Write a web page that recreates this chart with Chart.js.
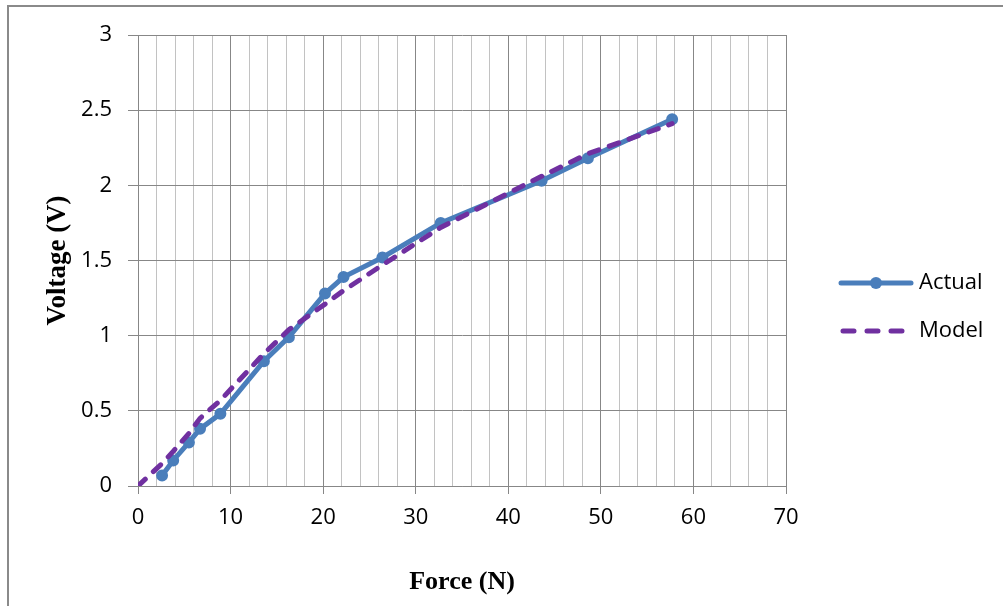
<!DOCTYPE html>
<html>
<head>
<meta charset="utf-8">
<script src="https://cdn.jsdelivr.net/npm/chart.js@4.4.1/dist/chart.umd.min.js"></script>
<style>
  body { margin: 0; background: #fff; }
  #wrap { position: relative; width: 1003px; height: 606px; overflow: hidden; }
  #frame { position: absolute; left: 7px; top: 5px; width: 1100px; height: 700px;
           border-top: 2px solid #8a8a8a; border-left: 2px solid #8a8a8a; }
  #chart { position: absolute; left: 0; top: 0; }
</style>
</head>
<body>
<div id="wrap">
  <div id="frame"></div>
  <canvas id="chart" width="1003" height="606"></canvas>
</div>
<script>
// Force (N) vs Voltage (V)
const forceActual = [2.6, 3.8, 5.5, 6.7, 8.9, 13.6, 16.3, 20.2, 22.2, 26.4, 32.7, 43.6, 48.6, 57.7];
const voltageActual = [0.07, 0.17, 0.29, 0.38, 0.48, 0.83, 0.99, 1.28, 1.39, 1.52, 1.75, 2.03, 2.18, 2.44];

const forceModel = [0, 2.6, 3.8, 5.5, 6.7, 8.9, 13.6, 16.3, 20.2, 22.2, 26.4, 32.7, 43.6, 48.6, 57.7];
const voltageModel = [0, 0.15, 0.23, 0.35, 0.45, 0.57, 0.88, 1.04, 1.21, 1.30, 1.47, 1.72, 2.06, 2.21, 2.41];

const seriesNames = ['Actual', 'Model'];

const blue = '#4a7ebb';
const purple = '#7030a0';
const majorGrid = '#878787';
const minorGrid = '#c2c2c2';

function toPoints(xs, ys) {
  return xs.map(function(x, i) { return { x: x, y: ys[i] }; });
}

// legend drawn at the right side, like the Excel one
const sideLegend = {
  id: 'sideLegend',
  afterDraw: function(chart) {
    const c = chart.ctx;
    const x0 = 841, x1 = 911;
    c.save();
    // Actual
    let y = 283;
    c.strokeStyle = blue;
    c.lineWidth = 5;
    c.lineCap = 'round';
    c.beginPath(); c.moveTo(x0, y); c.lineTo(x1, y); c.stroke();
    c.fillStyle = blue;
    c.beginPath(); c.arc(876, y, 6, 0, Math.PI * 2); c.fill();
    // Model
    y = 331;
    c.strokeStyle = purple;
    c.setLineDash([11, 13]);
    c.beginPath(); c.moveTo(x0 + 2, y); c.lineTo(x1, y); c.stroke();
    c.setLineDash([]);
    c.fillStyle = '#000';
    c.font = '22px "Open Sans"';
    c.textBaseline = 'middle';
    c.textAlign = 'left';
    c.fillText(seriesNames[0], 919, 283);
    c.fillText(seriesNames[1], 919, 331);
    c.restore();
  }
};

const ctx = document.getElementById('chart').getContext('2d');
const chart = new Chart(ctx, {
  type: 'line',
  data: {
    datasets: [{
      label: seriesNames[0],
      data: toPoints(forceActual, voltageActual),
      borderColor: blue,
      backgroundColor: blue,
      borderWidth: 5,
      pointRadius: 5,
      pointBorderWidth: 2,
      pointBackgroundColor: blue,
      pointBorderColor: blue,
      tension: 0,
      order: 1
    }, {
      label: seriesNames[1],
      data: toPoints(forceModel, voltageModel),
      borderColor: purple,
      borderWidth: 5,
      borderDash: [10, 11],
      borderCapStyle: 'round',
      pointRadius: 0,
      tension: 0,
      order: 0
    }]
  },
  options: {
    responsive: false,
    animation: false,
    layout: {
      padding: { left: 8, right: 217, top: 35, bottom: 0 }
    },
    plugins: {
      legend: { display: false },
      tooltip: { enabled: false }
    },
    scales: {
      x: {
        type: 'linear',
        min: 0,
        max: 70,
        afterFit: function(scale) { scale.height = 120; },
        ticks: {
          stepSize: 2,
          autoSkip: false,
          maxRotation: 0,
          padding: 11,
          color: '#000',
          font: { family: 'Open Sans', size: 22 },
          callback: function(value) { return value % 10 === 0 ? value : ''; }
        },
        grid: {
          tickLength: 8,
          color: function(c) { return c.tick && c.tick.value % 10 === 0 ? majorGrid : minorGrid; },
          tickColor: function(c) { return c.tick && c.tick.value % 10 === 0 ? majorGrid : 'rgba(0,0,0,0)'; }
        },
        border: { color: majorGrid },
        title: {
          display: true,
          text: 'Force (N)',
          color: '#000',
          font: { family: 'Liberation Serif', size: 26, weight: 'bold' },
          padding: { top: 0, bottom: 8 }
        }
      },
      y: {
        min: 0,
        max: 3,
        afterFit: function(scale) { scale.width = 130; },
        ticks: {
          stepSize: 0.5,
          padding: 16,
          color: '#000',
          font: { family: 'Open Sans', size: 22 },
          callback: function(value) { return String(Math.round(value * 10) / 10); }
        },
        grid: {
          tickLength: 10,
          color: majorGrid
        },
        border: { color: majorGrid },
        title: {
          display: true,
          text: 'Voltage (V)',
          color: '#000',
          font: { family: 'Liberation Serif', size: 27, weight: 'bold' },
          padding: { top: 34, bottom: 0 }
        }
      }
    }
  },
  plugins: [sideLegend]
});
</script>
</body>
</html>
